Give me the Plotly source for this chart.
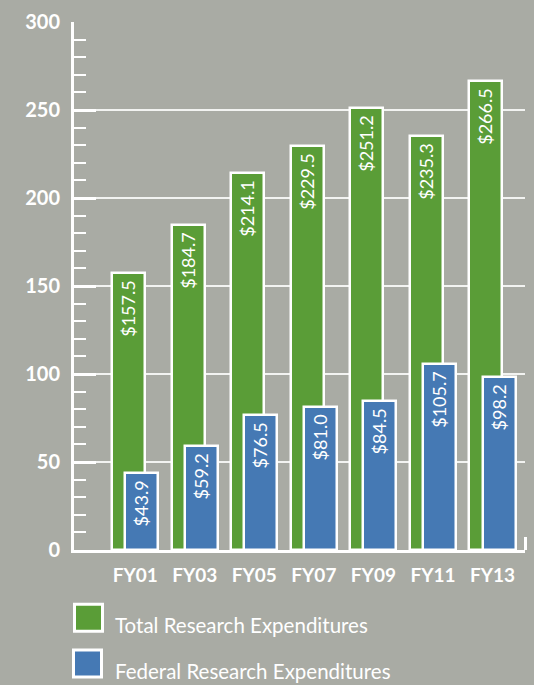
import plotly.graph_objects as go

categories = ["FY01", "FY03", "FY05", "FY07", "FY09", "FY11", "FY13"]
total_research = [157.5, 184.7, 214.1, 229.5, 251.2, 235.3, 266.5]
federal_research = [43.9, 59.2, 76.5, 81.0, 84.5, 105.7, 98.2]
series_names = ["Total Research Expenditures", "Federal Research Expenditures"]
y_tick_values = [0, 50, 100, 150, 200, 250, 300]

BG = "#a9aba4"
GREEN = "#5a9d37"
BLUE = "#4579b4"
FONT = "Lato"

W, H = 534, 685
ML, MR, MT, MB = 74, 9, 20, 135
plot_w = W - ML - MR
plot_h = H - MT - MB

xpos = list(range(len(categories)))
x_range = [-1.028, 6.546]
bar_w = 0.554

def fmt(v):
    return "$%.1f\u00a0" % v

fig = go.Figure()
fig.add_trace(go.Bar(
    x=xpos, y=total_research, name=series_names[0],
    width=bar_w, offset=-0.387,
    marker=dict(color=GREEN, line=dict(color="white", width=2.5)),
    text=[fmt(v) for v in total_research],
    textposition="inside", insidetextanchor="end", textangle=-90,
    insidetextfont=dict(family=FONT, size=18, color="white"),
    showlegend=False, hoverinfo="skip",
))
fig.add_trace(go.Bar(
    x=xpos, y=federal_research, name=series_names[1],
    width=bar_w, offset=-0.167,
    marker=dict(color=BLUE, line=dict(color="white", width=2.5)),
    text=[fmt(v) for v in federal_research],
    textposition="inside", insidetextanchor="end", textangle=-90,
    insidetextfont=dict(family=FONT, size=18, color="white"),
    showlegend=False, hoverinfo="skip",
))

def px_x(px):
    return (px - ML) / plot_w

def px_y(py):
    return (H - MB - py) / plot_h

shapes = []
annotations = []
legend_boxes = [(73, 603, 104, 633, GREEN), (72, 649, 103, 679, BLUE)]
legend_text_y = [625, 671.5]
for (x0, y0, x1, y1, col), name, ty in zip(legend_boxes, series_names, legend_text_y):
    shapes.append(dict(type="rect", xref="paper", yref="paper",
                       x0=px_x(x0 + 1.5), x1=px_x(x1 - 1.5),
                       y0=px_y(y0 + 1.5), y1=px_y(y1 - 1.5),
                       fillcolor=col, line=dict(color="white", width=3), layer="above"))
    annotations.append(dict(text=name, xref="paper", yref="paper",
                            x=px_x(113), y=px_y(ty), xanchor="left", yanchor="middle",
                            showarrow=False, font=dict(family=FONT, size=20.5, color="white")))

fig.update_layout(
    width=W, height=H,
    margin=dict(l=ML, r=MR, t=MT, b=MB),
    paper_bgcolor=BG, plot_bgcolor=BG,
    barmode="overlay", bargap=0,
    shapes=shapes, annotations=annotations,
    showlegend=False,
)
fig.update_xaxes(
    range=x_range, tickmode="array", tickvals=xpos, ticktext=categories,
    tickfont=dict(family=FONT, size=19, color="white", weight="bold"),
    showgrid=False, zeroline=False, ticks="", ticklabelstandoff=6,
    showline=True, linecolor="white", linewidth=3,
    minor=dict(tickmode="array", tickvals=[x_range[1]], ticks="inside",
               ticklen=13, tickwidth=3, tickcolor="white", showgrid=False),
)
fig.update_yaxes(
    range=[0, 300], tickmode="array", tickvals=y_tick_values,
    tickfont=dict(family=FONT, size=20, color="white", weight="bold"),
    ticks="inside", ticklen=22, tickwidth=3, tickcolor="white",
    showgrid=True, gridcolor="rgba(255,255,255,0.85)", gridwidth=1.5,
    zeroline=False, showline=True, linecolor="white", linewidth=3,
    ticklabelstandoff=7,
    minor=dict(dtick=10, ticks="inside", ticklen=12, tickwidth=2,
               tickcolor="white", showgrid=False),
)

fig.write_html(
    "out.html",
    config={"displayModeBar": False},
    post_script="document.body.style.margin='0';document.body.style.background='%s';" % BG,
)
